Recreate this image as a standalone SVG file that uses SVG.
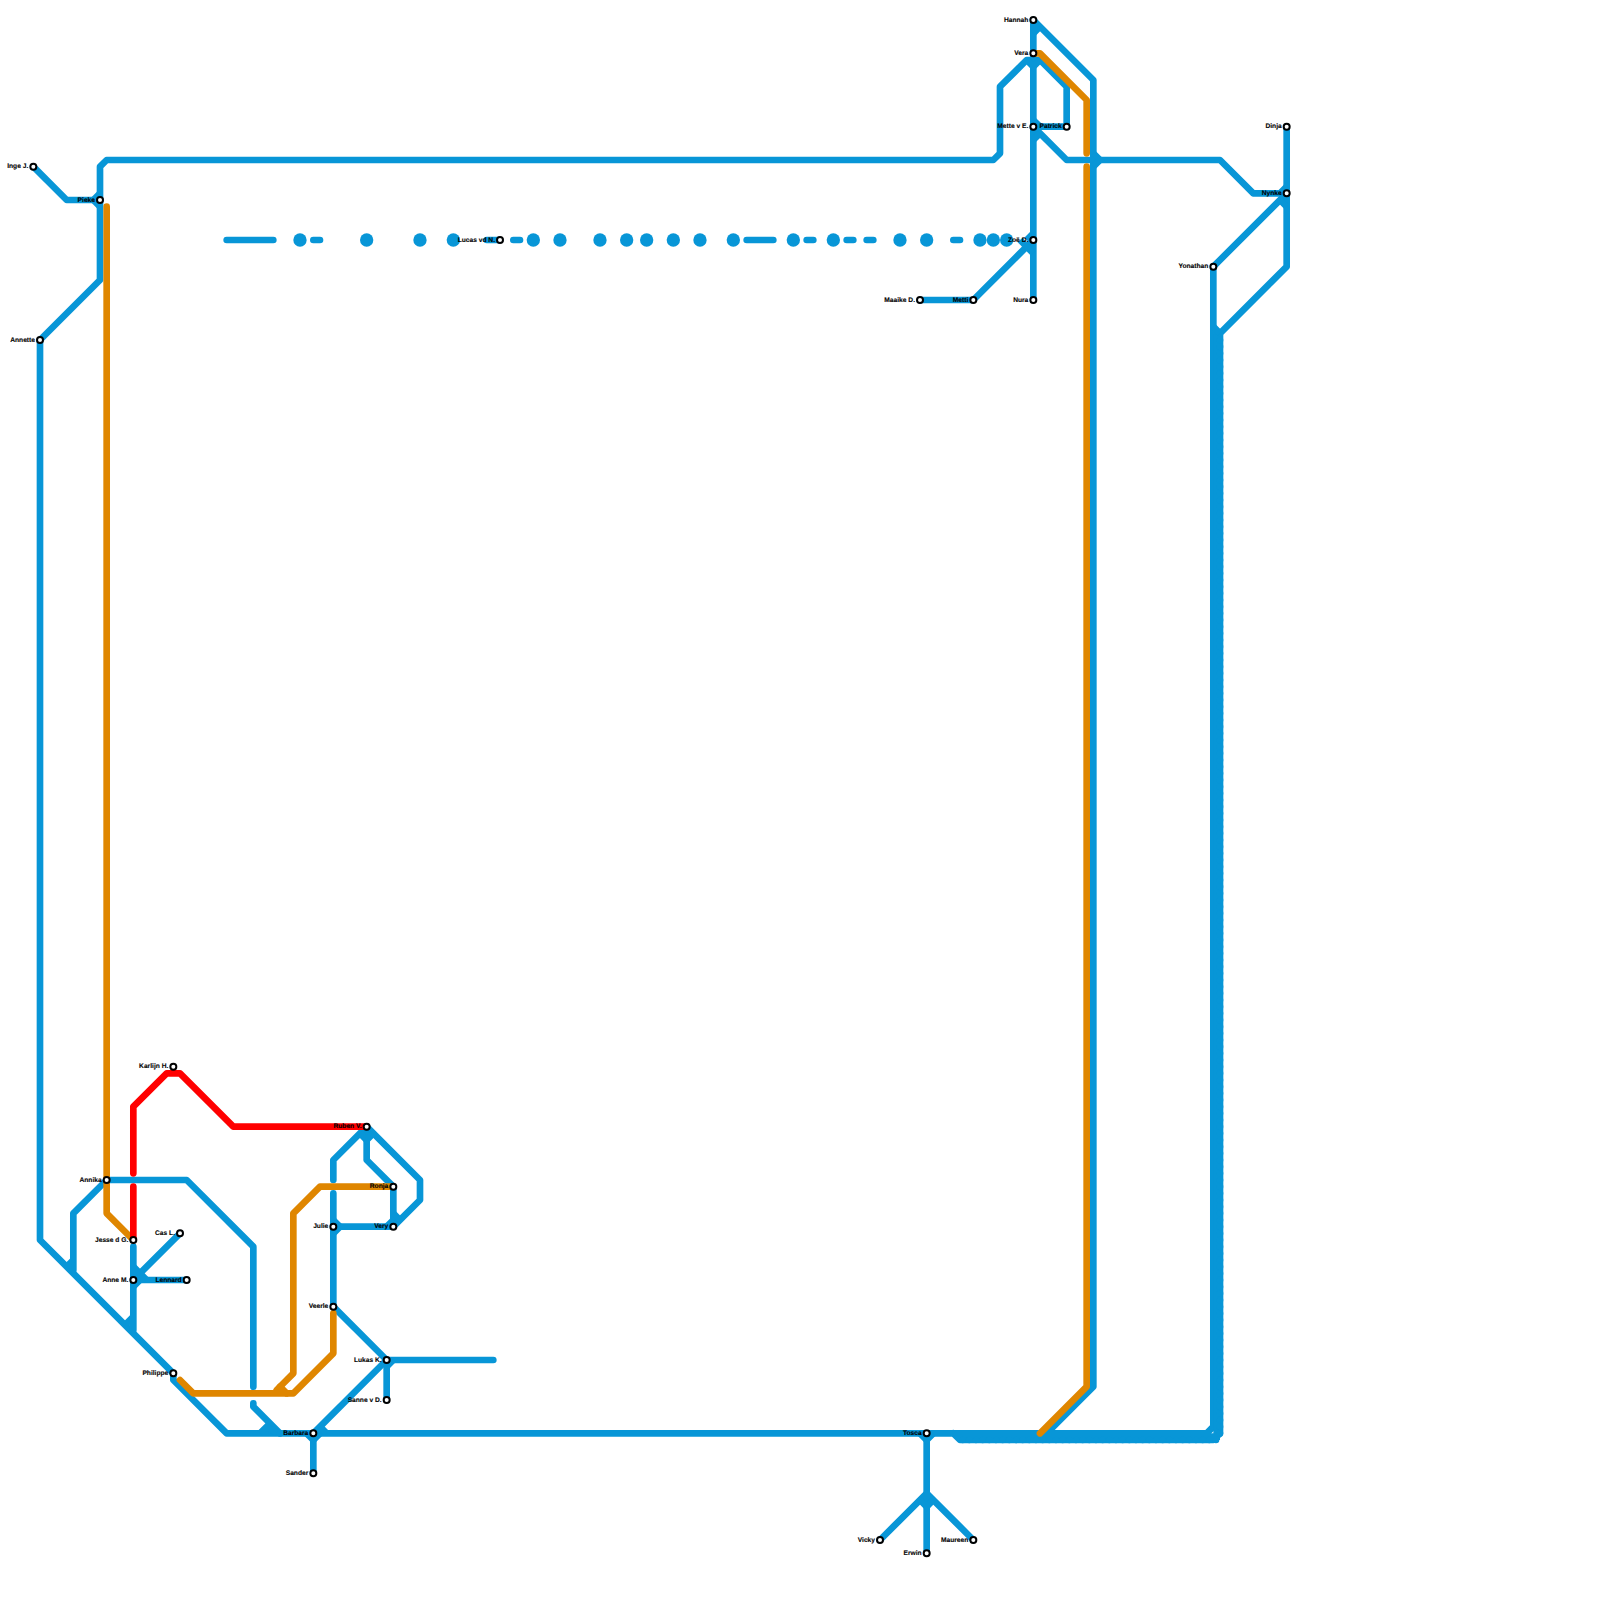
<svg xmlns="http://www.w3.org/2000/svg" width="1600" height="1600" viewBox="0 0 1600 1600">
<style>
.l{fill:none;stroke-width:6.67;stroke-linecap:round;stroke-linejoin:round}
.s{fill:none;stroke:#0896d7;stroke-width:6.67;stroke-linecap:butt;stroke-linejoin:miter}
.b{stroke:#0896d7}
.o{stroke:#df8600}
.r{stroke:#ff0000}
.d{fill:none;stroke:#0896d7;stroke-width:6.67;stroke-linecap:round;stroke-dasharray:0 6.667}
.dot{fill:#0896d7}
.st{fill:#fff;stroke:#000;stroke-width:2}
.lab{opacity:.99}
text{font-family:"Liberation Sans",Arial,sans-serif;font-size:6.67px;font-weight:bold;fill:#000;text-anchor:end;text-rendering:geometricPrecision;stroke:#000;stroke-width:.12}
</style>
<rect width="1600" height="1600" fill="#fff"/>
<g id="connectors">
<g id="blue-lines">
<path class="l b" d="M33.33 166.67L66.67 200H100V166.67L106.67 160H993.33L1000 153.33V86.67L1026.67 60H1040L1066.67 86.67V126.67H1033.33L1066.67 160H1220L1253.33 193.33H1286.67V126.67"/>
<path class="l b" d="M1033.33 20V300"/>
<path class="l b" d="M1033.33 20L1093.33 80V1386.67L1046.67 1433.33"/>
<path class="l b" d="M100 200V280L40 340V1240L173.33 1373.33V1380L226.67 1433.33H1206.67L1213.33 1426.67V266.67L1286.67 193.33V266.67L1220 333.33V1433.33L1213.33 1440H960L953.33 1433.33"/>
<path class="s" d="M1216.67 333.33V1436.67H960"/>
<path class="d" d="M1220 333.33V1436"/>
<path class="d" d="M1216 1440H960"/>
<path class="l b" d="M920 300H973.33L1033.33 240"/>
<path class="s" d="M1020 240L1033.33 253.33"/>
<path class="l b" d="M106.67 1180H186.67L253.33 1246.67V1386.67"/>
<path class="l b" d="M106.67 1180L73.33 1213.33V1270"/>
<path class="l b" d="M253.33 1403.33V1406.67L280 1433.33"/>
<path class="l b" d="M133.33 1246.67V1330"/>
<path class="l b" d="M180 1233.33L133.33 1280H186.67"/>
<path class="l b" d="M333.33 1180V1160L366.67 1126.67L420 1180V1200L393.33 1226.67H333.33"/>
<path class="l b" d="M366.67 1126.67V1160L393.33 1186.67V1226.67"/>
<path class="l b" d="M333.33 1193.33V1306.67L386.67 1360H493.33"/>
<path class="l b" d="M386.67 1360V1400"/>
<path class="l b" d="M386.67 1360L313.33 1433.33V1473.33"/>
<path class="l b" d="M926.67 1433.33V1553.33"/>
<path class="l b" d="M880 1540L926.67 1493.33L973.33 1540"/>
<path class="l b" d="M486.67 240H500"/>
<path class="l b" d="M226.67 240H273.33M313.33 240H320M513.33 240H520M746.67 240H773.33M806.67 240H813.33M846.67 240H853.33M866.67 240H873.33M953.33 240H960"/>
<g class="dot"><circle cx="300" cy="240" r="6.67"/><circle cx="366.67" cy="240" r="6.67"/><circle cx="420" cy="240" r="6.67"/><circle cx="453.33" cy="240" r="6.67"/><circle cx="533.33" cy="240" r="6.67"/><circle cx="560" cy="240" r="6.67"/><circle cx="600" cy="240" r="6.67"/><circle cx="626.67" cy="240" r="6.67"/><circle cx="646.67" cy="240" r="6.67"/><circle cx="673.33" cy="240" r="6.67"/><circle cx="700" cy="240" r="6.67"/><circle cx="733.33" cy="240" r="6.67"/><circle cx="793.33" cy="240" r="6.67"/><circle cx="833.33" cy="240" r="6.67"/><circle cx="900" cy="240" r="6.67"/><circle cx="926.67" cy="240" r="6.67"/><circle cx="980" cy="240" r="6.67"/><circle cx="993.33" cy="240" r="6.67"/><circle cx="1006.67" cy="240" r="6.67"/></g>
<path class="s" d="M1033.33 33.33L1040 26.67M1026.67 60L1033.33 66.67L1040 60M1033.33 120L1040 126.67M1033.33 140L1040 133.33M1026.67 240L1033.33 233.33M1093.33 153.33L1100 160L1093.33 166.67M1280 193.33L1286.67 186.67M1280 200L1286.67 206.67M1213.33 326.67L1220 333.33"/>
<path class="s" d="M93.33 200L100 193.33M93.33 200L100 206.67M66.67 1266.67L73.33 1260M126.67 1323.33L133.33 1316.67M133.33 1286.67L140 1280M133.33 1266.67L140 1273.33L146.67 1280"/>
<path class="s" d="M333.33 1220L340 1226.67L333.33 1233.33M393.33 1220L386.67 1226.67M393.33 1213.33L400 1220M360 1133.33L366.67 1140L373.33 1133.33M393.33 1360L386.67 1366.67M306.67 1433.33L313.33 1440L320 1433.33M320 1426.67L326.67 1433.33M260 1433.33L266.67 1426.67L276.67 1433.33M920 1433.33L926.67 1440L933.33 1433.33M920 1500L926.67 1506.67L933.33 1500"/>
</g>
<g id="orange-lines">
<path class="l o" d="M1033.33 53.33H1040L1086.67 100V153.33"/>
<path class="l o" d="M1086.67 166.67V1386.67L1040 1433.33"/>
<path class="l o" d="M106.67 206.67V1213.33L133.33 1240"/>
<path class="l o" d="M390 1186.67H320L293.33 1213.33V1373.33L276.67 1390"/>
<path class="l o" d="M180 1380L193.33 1393.33H293.33L333.33 1353.33V1313.33"/>
<path class="l o" d="M280 1386.67L286.67 1393.33"/>
</g>
<g id="red-lines">
<path class="l r" d="M133.33 1173.33V1106.67L166.67 1073.33H180L233.33 1126.67H366.67"/>
<path class="l r" d="M133.33 1186.67V1240"/>
</g>
</g>
<g id="nodes">
<g id="hannah" class="lab"><circle class="st" cx="1033.33" cy="20" r="3"/><text x="1028.3" y="21.7">Hannah</text></g>
<g id="vera" class="lab"><circle class="st" cx="1033.33" cy="53.33" r="3"/><text x="1028.3" y="55">Vera</text></g>
<g id="mette" class="lab"><circle class="st" cx="1033.33" cy="126.67" r="3"/><text x="1028.3" y="128.4">Mette v E.</text></g>
<g id="patrick" class="lab"><circle class="st" cx="1066.67" cy="126.67" r="3"/><text x="1061.7" y="128.4">Patrick</text></g>
<g id="zoe" class="lab"><circle class="st" cx="1033.33" cy="240" r="3"/><text x="1028.3" y="241.7">Zoë D.</text></g>
<g id="nura" class="lab"><circle class="st" cx="1033.33" cy="300" r="3"/><text x="1028.3" y="301.7">Nura</text></g>
<g id="metti" class="lab"><circle class="st" cx="973.33" cy="300" r="3"/><text x="968.3" y="301.7">Metti</text></g>
<g id="maaike" class="lab"><circle class="st" cx="920" cy="300" r="3"/><text x="915" y="301.7">Maaike D.</text></g>
<g id="dinja" class="lab"><circle class="st" cx="1286.67" cy="126.67" r="3"/><text x="1281.7" y="128.4">Dinja</text></g>
<g id="nynke" class="lab"><circle class="st" cx="1286.67" cy="193.33" r="3"/><text x="1281.7" y="195">Nynke</text></g>
<g id="yonathan" class="lab"><circle class="st" cx="1213.33" cy="266.67" r="3"/><text x="1208.3" y="268.4">Yonathan</text></g>
<g id="inge" class="lab"><circle class="st" cx="33.33" cy="166.67" r="3"/><text x="28.3" y="168.4">Inge J.</text></g>
<g id="pieke" class="lab"><circle class="st" cx="100" cy="200" r="3"/><text x="95" y="201.7">Pieke</text></g>
<g id="annette" class="lab"><circle class="st" cx="40" cy="340" r="3"/><text x="35" y="341.7">Annette</text></g>
<g id="lucas-vd" class="lab"><circle class="st" cx="500" cy="240" r="3"/><text x="495" y="241.7">Lucas vd N.</text></g>
<g id="annika" class="lab"><circle class="st" cx="106.67" cy="1180" r="3"/><text x="101.7" y="1181.7">Annika</text></g>
<g id="karlijn" class="lab"><circle class="st" cx="173.33" cy="1066.67" r="3"/><text x="168.3" y="1068.4">Karlijn H.</text></g>
<g id="jesse" class="lab"><circle class="st" cx="133.33" cy="1240" r="3"/><text x="128.3" y="1241.7">Jesse d G.</text></g>
<g id="cas" class="lab"><circle class="st" cx="180" cy="1233.33" r="3"/><text x="175" y="1235">Cas L.</text></g>
<g id="anne" class="lab"><circle class="st" cx="133.33" cy="1280" r="3"/><text x="128.3" y="1281.7">Anne M.</text></g>
<g id="lennard" class="lab"><circle class="st" cx="186.67" cy="1280" r="3"/><text x="181.7" y="1281.7">Lennard</text></g>
<g id="philippe" class="lab"><circle class="st" cx="173.33" cy="1373.33" r="3"/><text x="168.3" y="1375">Philippe</text></g>
<g id="ruben" class="lab"><circle class="st" cx="366.67" cy="1126.67" r="3"/><text x="361.7" y="1128.4">Ruben V.</text></g>
<g id="ronja" class="lab"><circle class="st" cx="393.33" cy="1186.67" r="3"/><text x="388.3" y="1188.4">Ronja</text></g>
<g id="very" class="lab"><circle class="st" cx="393.33" cy="1226.67" r="3"/><text x="388.3" y="1228.4">Very</text></g>
<g id="julie" class="lab"><circle class="st" cx="333.33" cy="1226.67" r="3"/><text x="328.3" y="1228.4">Julie</text></g>
<g id="veerle" class="lab"><circle class="st" cx="333.33" cy="1306.67" r="3"/><text x="328.3" y="1308.4">Veerle</text></g>
<g id="lukas-k" class="lab"><circle class="st" cx="386.67" cy="1360" r="3"/><text x="381.7" y="1361.7">Lukas K.</text></g>
<g id="sanne" class="lab"><circle class="st" cx="386.67" cy="1400" r="3"/><text x="381.7" y="1401.7">Sanne v D.</text></g>
<g id="barbara" class="lab"><circle class="st" cx="313.33" cy="1433.33" r="3"/><text x="308.3" y="1435">Barbara</text></g>
<g id="sander" class="lab"><circle class="st" cx="313.33" cy="1473.33" r="3"/><text x="308.3" y="1475">Sander</text></g>
<g id="tosca" class="lab"><circle class="st" cx="926.67" cy="1433.33" r="3"/><text x="921.7" y="1435">Tosca</text></g>
<g id="vicky" class="lab"><circle class="st" cx="880" cy="1540" r="3"/><text x="875" y="1541.7">Vicky</text></g>
<g id="erwin" class="lab"><circle class="st" cx="926.67" cy="1553.33" r="3"/><text x="921.7" y="1555">Erwin</text></g>
<g id="maureen" class="lab"><circle class="st" cx="973.33" cy="1540" r="3"/><text x="968.3" y="1541.7">Maureen</text></g>
</g>
</svg>
